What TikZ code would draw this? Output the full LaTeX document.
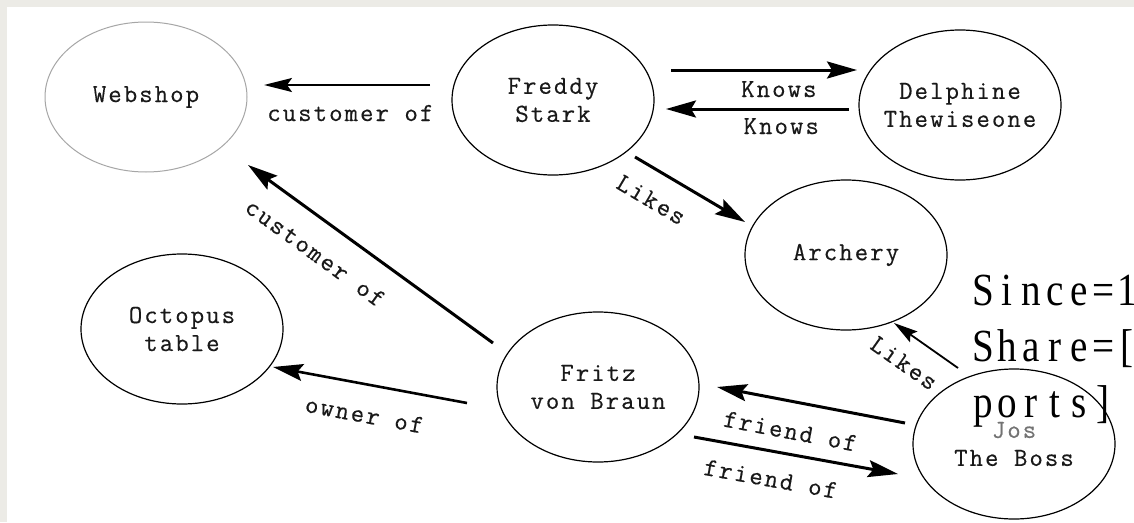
\documentclass[tikz,border=0pt]{standalone}
\usepackage{fontspec}
\newfontfamily\diagfont[LetterSpace=8,FakeBold=0.4]{Latin Modern Mono}
\newfontfamily\notefont[FakeStretch=0.85]{Liberation Serif}
\usetikzlibrary{shapes.geometric,arrows.meta,calc}
\definecolor{paper}{HTML}{ECEBE6}
% set each character of a word in a cell of fixed width
\makeatletter
\newcommand\cellword[1]{\@tfor\cw@c:=#1\do{\makebox[24pt]{\cw@c}}}
\makeatother

\begin{document}
\begin{tikzpicture}[x=1pt,y=-1pt,
  entity/.style={ellipse, draw=black, line width=1.2pt,
    minimum width=202pt, minimum height=150pt, inner sep=-40pt,
    font=\diagfont\fontsize{26}{28}\selectfont, text=black!90, align=center},
  rel/.style={line width=3pt, -{Stealth[length=30pt,width=17pt,inset=5pt]}},
  thinrel/.style={line width=2pt, -{Stealth[length=28pt,width=14pt,inset=5pt]}},
  lbl/.style={font=\diagfont\fontsize{26}{28}\selectfont, text=black!90,
    inner sep=0pt, text height=16pt, text depth=0pt, sloped}
]
\useasboundingbox (0,0) rectangle (1134,522);
\clip (0,0) rectangle (1134,522);
\fill[paper] (0,0) rectangle (1134,522);
\fill[white] (7,7) rectangle (1134,522);

% entities
\node[entity, draw=black!35, line width=1pt] (web) at (146,97) {Webshop};
\node[entity] (fred)  at (553,100) {Freddy\\Stark};
\node[entity] (del)   at (960,105) {Delphine\\Thewiseone};
\node[entity] (arch)  at (846,255) {Archery};
\node[entity] (oct)   at (182,329) {Octopus\\table};
\node[entity] (fritz) at (598,387) {Fritz\\von Braun};
\node[entity] (jos)   at (1014,444) {{\color{black!55}Jos}\\The Boss};

% relations
\draw[thinrel] ($(fred)+(-123,-15)$) -- ($(web)+(118,-12)$)
  node[lbl, pos=0.48, below=19pt] {customer of};
\draw[rel] ($(fred)+(118,-30)$) -- ($(del)+(-103,-35)$)
  node[lbl, pos=0.58, below=9.5pt] {Knows};
\draw[rel] ($(del)+(-111,4)$) -- ($(fred)+(113,9)$)
  node[lbl, pos=0.37, below=7.5pt] {Knows};
\draw[rel] ($(fred)+(82,57)$) -- ($(arch)+(-101,-33)$)
  node[lbl, pos=0.28, below=19pt] {Likes};
\draw[rel] ($(fritz)+(-105,-44)$) -- ($(web)+(102,68)$)
  node[lbl, pos=0.65, below=22pt] {customer of};
\draw[rel, line width=2.6pt] ($(fritz)+(-131,16)$) -- ($(oct)+(91,38)$)
  node[lbl, pos=0.5, below=21pt] {owner of};
\draw[line width=1.8pt, -{Stealth[length=24pt,width=13pt,inset=4pt]}]
  ($(jos)+(-56,-76)$) -- ($(arch)+(48,68)$)
  node[lbl, pos=0.6, below=18pt] {Likes};
\draw[rel] ($(jos)+(-109,-21)$) -- ($(fritz)+(119,0)$)
  node[lbl, pos=0.58, below=20pt] {friend of};
\draw[rel] ($(fritz)+(96,50)$) -- ($(jos)+(-116,30)$)
  node[lbl, pos=0.40, below=18pt] {friend of};

% note text set over the lower right corner
\node[anchor=base west, align=left, inner sep=0pt,
  font=\notefont\fontsize{46}{56}\selectfont] (note) at (971,417)
  {\cellword{Since=1}\\\cellword{Share=[}\\\cellword{ports]}};
\end{tikzpicture}
\end{document}
